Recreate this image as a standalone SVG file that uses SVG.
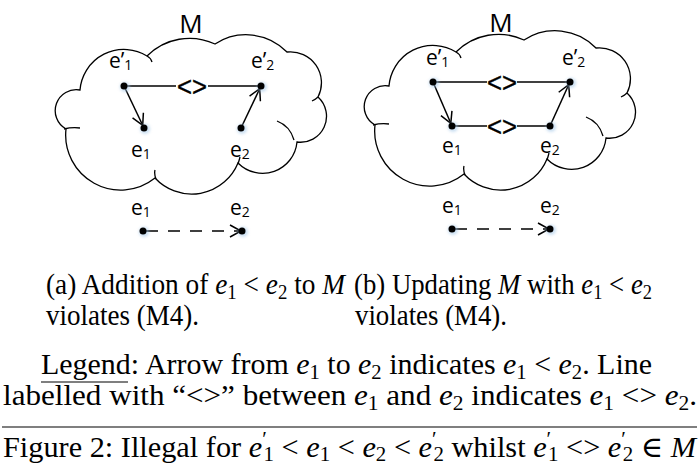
<svg xmlns="http://www.w3.org/2000/svg" xmlns:xlink="http://www.w3.org/1999/xlink" width="699" height="465" viewBox="0 0 699 465">
<style>
.lbl{font-family:"Open Sans","Liberation Sans",sans-serif;font-size:21px;fill:#000}
.sub{font-size:14px}
.mlab{font-family:"Open Sans","Liberation Sans",sans-serif;font-size:26px;fill:#000}
.ne{font-family:"Liberation Sans",sans-serif;font-size:27px;fill:#000;stroke:#000;stroke-width:0.4}
.cap{font-family:"Liberation Serif","DejaVu Serif",serif;font-size:29px;fill:#000}
.it{font-style:italic}
.s{font-size:20px}
.cloud{fill:none;stroke:#000;stroke-width:1.3}
.edge{fill:none;stroke:#000;stroke-width:1.5}
.glow{fill:#9dc3e6;opacity:.55}
</style>
<defs>
<filter id="blur" x="-1" y="-1" width="3" height="3"><feGaussianBlur stdDeviation="1.6"/></filter>
<marker id="ah" viewBox="-12 -7 14 14" refX="0" refY="0" markerWidth="14" markerHeight="14" markerUnits="userSpaceOnUse" orient="auto"><path d="M-11,-6 L0,0 L-11,6" fill="none" stroke="#000" stroke-width="1.5"/></marker>
<g id="cloudshape">
<path class="cloud" d="M80,90 A44,44 0 0 1 147,56 A60,60 0 0 1 215,44 A57,57 0 0 1 287,52 A31,31 0 0 1 318,97 A26,26 0 0 1 297,142 A34.5,34.5 0 0 1 238,163 A50,50 0 0 1 155,178 A55,55 0 0 1 66,129 A21,21 0 0 1 80,90 Z"/>
<path class="cloud" d="M147,56 Q151,58 152,62 M318,97 Q316,99 312,101 M277,121 Q290,126 294,140 M238,164 Q239,161 240,157 M156,179 Q154,174 155,170 M64,129 Q72,127 80,128"/>
</g>
</defs>

<!-- clouds -->
<g id="cloud-a"><use xlink:href="#cloudshape" href="#cloudshape"/></g>
<g id="cloud-b"><use xlink:href="#cloudshape" href="#cloudshape" transform="translate(309,-4)"/></g>
<text id="M-a" class="mlab" x="191" y="33" text-anchor="middle">M</text>
<text id="M-b" class="mlab" x="501" y="32" text-anchor="middle">M</text>

<!-- connectors -->
<g id="connectors">
<line class="edge" x1="124" y1="86" x2="176" y2="86"/>
<line class="edge" x1="208" y1="86" x2="261" y2="86"/>
<text class="ne" x="192" y="95.5" text-anchor="middle" textLength="30" lengthAdjust="spacingAndGlyphs">&lt;&gt;</text>
<line class="edge" x1="124" y1="86" x2="142.7" y2="125.3" marker-end="url(#ah)"/>
<line class="edge" x1="241" y1="128" x2="259.7" y2="88.7" marker-end="url(#ah)"/>
<line class="edge" x1="146" y1="231" x2="241" y2="231" stroke-dasharray="12 10" marker-end="url(#ah)"/>

<line class="edge" x1="433" y1="82" x2="487" y2="82"/>
<line class="edge" x1="517" y1="82" x2="570" y2="82"/>
<text class="ne" x="502" y="91.5" text-anchor="middle" textLength="30" lengthAdjust="spacingAndGlyphs">&lt;&gt;</text>
<line class="edge" x1="452" y1="126" x2="487" y2="126"/>
<line class="edge" x1="517" y1="126" x2="550" y2="126"/>
<text class="ne" x="502" y="135.5" text-anchor="middle" textLength="30" lengthAdjust="spacingAndGlyphs">&lt;&gt;</text>
<line class="edge" x1="433" y1="82" x2="450.8" y2="123.3" marker-end="url(#ah)"/>
<line class="edge" x1="550" y1="126" x2="568.7" y2="84.7" marker-end="url(#ah)"/>
<line class="edge" x1="455" y1="229" x2="549" y2="229" stroke-dasharray="12 10" marker-end="url(#ah)"/>
</g>

<!-- nodes panel a -->
<g id="a-e1p"><circle class="glow" cx="125" cy="87" r="5" filter="url(#blur)"/><circle cx="124" cy="86" r="3.5"/><text class="lbl" x="109" y="68">e’<tspan class="sub" dy="2">1</tspan></text></g>
<g id="a-e2p"><circle class="glow" cx="262" cy="87" r="5" filter="url(#blur)"/><circle cx="261" cy="86" r="3.5"/><text class="lbl" x="251" y="68">e’<tspan class="sub" dy="2">2</tspan></text></g>
<g id="a-e1"><circle class="glow" cx="145" cy="129" r="5" filter="url(#blur)"/><circle cx="144" cy="128" r="3.5"/><text class="lbl" x="131" y="157">e<tspan class="sub" dy="2">1</tspan></text></g>
<g id="a-e2"><circle class="glow" cx="242" cy="129" r="5" filter="url(#blur)"/><circle cx="241" cy="128" r="3.5"/><text class="lbl" x="230" y="157">e<tspan class="sub" dy="2">2</tspan></text></g>
<g id="a-n1"><circle class="glow" cx="144" cy="232" r="5" filter="url(#blur)"/><circle cx="143" cy="231" r="3.5"/><text class="lbl" x="131" y="215">e<tspan class="sub" dy="2">1</tspan></text></g>
<g id="a-n2"><circle class="glow" cx="243" cy="232" r="5" filter="url(#blur)"/><circle cx="242" cy="231" r="3.5"/><text class="lbl" x="230" y="215">e<tspan class="sub" dy="2">2</tspan></text></g>

<!-- nodes panel b -->
<g id="b-e1p"><circle class="glow" cx="434" cy="83" r="5" filter="url(#blur)"/><circle cx="433" cy="82" r="3.5"/><text class="lbl" x="426" y="65">e’<tspan class="sub" dy="2">1</tspan></text></g>
<g id="b-e2p"><circle class="glow" cx="571" cy="83" r="5" filter="url(#blur)"/><circle cx="570" cy="82" r="3.5"/><text class="lbl" x="562" y="65">e’<tspan class="sub" dy="2">2</tspan></text></g>
<g id="b-e1"><circle class="glow" cx="453" cy="127" r="5" filter="url(#blur)"/><circle cx="452" cy="126" r="3.5"/><text class="lbl" x="442" y="153">e<tspan class="sub" dy="2">1</tspan></text></g>
<g id="b-e2"><circle class="glow" cx="551" cy="127" r="5" filter="url(#blur)"/><circle cx="550" cy="126" r="3.5"/><text class="lbl" x="540" y="153">e<tspan class="sub" dy="2">2</tspan></text></g>
<g id="b-n1"><circle class="glow" cx="453" cy="230" r="5" filter="url(#blur)"/><circle cx="452" cy="229" r="3.5"/><text class="lbl" x="442" y="213">e<tspan class="sub" dy="2">1</tspan></text></g>
<g id="b-n2"><circle class="glow" cx="551" cy="230" r="5" filter="url(#blur)"/><circle cx="550" cy="229" r="3.5"/><text class="lbl" x="540" y="213">e<tspan class="sub" dy="2">2</tspan></text></g>

<!-- captions -->
<g id="captions">
<text class="cap" x="46" y="294" textLength="299" lengthAdjust="spacingAndGlyphs">(a) Addition of <tspan class="it">e</tspan><tspan class="s" dy="5">1</tspan><tspan dy="-5"> &lt; </tspan><tspan class="it">e</tspan><tspan class="s" dy="5">2</tspan><tspan dy="-5"> to </tspan><tspan class="it">M</tspan></text>
<text class="cap" x="354" y="294" textLength="298" lengthAdjust="spacingAndGlyphs">(b) Updating <tspan class="it">M</tspan> with <tspan class="it">e</tspan><tspan class="s" dy="5">1</tspan><tspan dy="-5"> &lt; </tspan><tspan class="it">e</tspan><tspan class="s" dy="5">2</tspan></text>
<text class="cap" x="46" y="325" textLength="153" lengthAdjust="spacingAndGlyphs">violates (M4).</text>
<text class="cap" x="355" y="325" textLength="152" lengthAdjust="spacingAndGlyphs">violates (M4).</text>
<text class="cap" x="41" y="374" textLength="611" lengthAdjust="spacingAndGlyphs">Legend: Arrow from <tspan class="it">e</tspan><tspan class="s" dy="5">1</tspan><tspan dy="-5"> to </tspan><tspan class="it">e</tspan><tspan class="s" dy="5">2</tspan><tspan dy="-5"> indicates </tspan><tspan class="it">e</tspan><tspan class="s" dy="5">1</tspan><tspan dy="-5"> &lt; </tspan><tspan class="it">e</tspan><tspan class="s" dy="5">2</tspan><tspan dy="-5">. Line</tspan></text>
<line x1="41" y1="382" x2="128" y2="382" stroke="#000" stroke-width="1.2"/>
<text class="cap" x="3" y="405" textLength="694" lengthAdjust="spacingAndGlyphs">labelled with “&lt;&gt;” between <tspan class="it">e</tspan><tspan class="s" dy="5">1</tspan><tspan dy="-5"> and </tspan><tspan class="it">e</tspan><tspan class="s" dy="5">2</tspan><tspan dy="-5"> indicates </tspan><tspan class="it">e</tspan><tspan class="s" dy="5">1</tspan><tspan dy="-5"> &lt;&gt; </tspan><tspan class="it">e</tspan><tspan class="s" dy="5">2</tspan><tspan dy="-5">.</tspan></text>
<line x1="2" y1="427" x2="697" y2="427" stroke="#555" stroke-width="1.5"/>
<text class="cap" x="3" y="457" textLength="693" lengthAdjust="spacingAndGlyphs">Figure 2: Illegal for <tspan class="it">e</tspan><tspan class="s" dy="-11">′</tspan><tspan class="s" dx="-3" dy="15">1</tspan><tspan dy="-4"> &lt; </tspan><tspan class="it">e</tspan><tspan class="s" dy="4">1</tspan><tspan dy="-4"> &lt; </tspan><tspan class="it">e</tspan><tspan class="s" dy="4">2</tspan><tspan dy="-4"> &lt; </tspan><tspan class="it">e</tspan><tspan class="s" dy="-11">′</tspan><tspan class="s" dx="-3" dy="15">2</tspan><tspan dy="-4"> whilst </tspan><tspan class="it">e</tspan><tspan class="s" dy="-11">′</tspan><tspan class="s" dx="-3" dy="15">1</tspan><tspan dy="-4"> &lt;&gt; </tspan><tspan class="it">e</tspan><tspan class="s" dy="-11">′</tspan><tspan class="s" dx="-3" dy="15">2</tspan><tspan dy="-4"> ∈ </tspan><tspan class="it">M</tspan></text>
</g>
</svg>
